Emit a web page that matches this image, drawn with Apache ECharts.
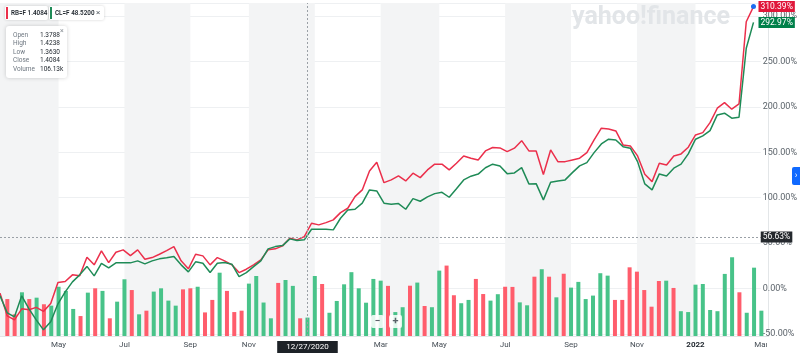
<!DOCTYPE html>
<html>
<head>
<meta charset="utf-8">
<title>RB=F vs CL=F</title>
<script src="https://cdn.jsdelivr.net/npm/echarts@6/dist/echarts.min.js"></script>
<style>
  html, body { margin: 0; padding: 0; background: #fff; }
  #chart { width: 800px; height: 355px; }
</style>
</head>
<body>
<div id="chart"></div>
<script>
// weekly candles; first slot is the week before the visible range, last slot is empty padding
const firstWeek = Date.UTC(2020, 2, 8)
const weekCount = 106

// % change, from 2020-03-08 to 2022-03-06
const rbPct = [-5.0, -30.0, -34.4, -22.3, -23.4, -20.7, -25.1, -16.3, 6.6, 7.7,
  15.1, 14.0, 34.5, 26.1, 41.5, 28.6, 40.0, 42.6, 36.3, 42.6,
  32.3, 34.1, 37.8, 41.8, 46.2, 30.5, 21.7, 37.8, 36.0, 26.1,
  34.1, 30.5, 26.1, 17.6, 21.3, 26.1, 31.6, 42.6, 43.7, 47.0,
  55.4, 53.6, 57.2, 71.9, 70.1, 72.6, 75.6, 83.6, 88.4, 101.2,
  108.6, 129.5, 139.1, 116.6, 119.6, 124.0, 118.5, 127.0, 122.1, 130.6,
  136.9, 136.9, 130.6, 138.0, 146.0, 143.5, 141.6, 151.5, 155.3, 154.8,
  150.7, 154.5, 162.8, 151.5, 151.5, 125.6, 152.6, 139.7, 139.7, 141.6,
  143.5, 149.6, 163.6, 176.5, 175.7, 173.5, 158.1, 157.0, 146.0, 125.9,
  117.7, 138.0, 136.1, 146.0, 148.2, 155.6, 169.1, 171.6, 182.6, 198.5,
  204.6, 197.4, 203.2, 293.7, 310.39]
const clPct = [-8.0, -26.7, -31.1, -8.0, -22.3, -34.4, -45.4, -36.6, -16.8, -3.6,
  7.4, 15.1, 24.4, 14.0, 27.7, 22.8, 28.3, 28.3, 28.3, 30.5,
  27.2, 30.5, 32.7, 33.8, 35.4, 26.1, 18.4, 29.4, 27.9, 17.6,
  27.9, 28.6, 26.8, 13.2, 17.6, 24.2, 30.5, 43.7, 46.2, 47.3,
  54.7, 52.8, 53.6, 65.3, 65.3, 65.3, 64.6, 77.4, 86.6, 87.3,
  94.0, 108.6, 107.5, 94.0, 92.8, 93.5, 87.3, 99.0, 96.1, 100.9,
  104.5, 106.0, 100.5, 109.9, 119.6, 123.7, 126.0, 133.0, 136.9, 135.0,
  126.5, 127.3, 133.1, 115.2, 115.5, 97.6, 117.1, 118.5, 119.6, 127.6,
  135.0, 138.6, 149.6, 159.2, 164.4, 163.6, 156.2, 154.5, 139.7, 115.2,
  108.6, 126.2, 124.0, 132.5, 136.9, 148.2, 164.4, 168.0, 173.8, 191.1,
  193.0, 187.5, 188.6, 264.5, 292.97]

// volume in thousands, from 2020-03-15; 1 = up week, 0 = down week
const volume = [213, 125, 252, 213, 221, 183, 175, 284, 260, 156,
  115, 250, 275, 260, 102, 198, 327, 265, 125, 146,
  256, 275, 204, 175, 269, 275, 284, 136, 208, 365,
  260, 138, 146, 302, 346, 193, 102, 306, 323, 289,
  102, 106, 346, 300, 134, 202, 298, 368, 275, 192,
  329, 319, 289, 138, 166, 290, 308, 173, 166, 377,
  406, 235, 189, 208, 329, 242, 204, 241, 284, 283,
  194, 177, 342, 385, 342, 223, 359, 279, 312, 213,
  233, 362, 348, 208, 208, 396, 371, 265, 169, 317,
  319, 277, 143, 138, 296, 300, 150, 143, 358, 454,
  252, 134, 394, 145.96]
const volUp = [0, 0, 1, 0, 1, 0, 1, 1, 1, 1,
  0, 1, 0, 1, 0, 1, 1, 0, 1, 0,
  1, 1, 1, 1, 0, 0, 1, 0, 0, 1,
  0, 0, 0, 1, 1, 1, 1, 0, 1, 1,
  0, 1, 1, 0, 1, 1, 1, 1, 1, 1,
  1, 1, 0, 1, 1, 0, 1, 0, 1, 1,
  0, 0, 1, 1, 0, 0, 1, 1, 0, 0,
  1, 1, 0, 1, 0, 1, 0, 1, 1, 1,
  1, 1, 1, 0, 0, 0, 0, 0, 0, 0,
  1, 0, 1, 1, 1, 1, 1, 1, 1, 1,
  0, 1, 1, 1]

const tickDates = ['2020-05-03', '2020-07-05', '2020-09-06', '2020-11-01', '2021-03-07',
  '2021-05-02', '2021-07-04', '2021-09-05', '2021-11-07', '2022-01-02', '2022-03-06']
const tickNames = ['May', 'Jul', 'Sep', 'Nov', 'Mar', 'May', 'Jul', 'Sep', 'Nov', '2022', 'Mar']
// shaded two-month stripes (Mar-Apr, Jul-Aug, Nov-Dec)
const bandStart = ['2020-03-08', '2020-07-05', '2020-11-01', '2021-03-07', '2021-07-04', '2021-11-07']
const bandEnd = ['2020-05-03', '2020-09-06', '2021-01-03', '2021-05-02', '2021-09-05', '2022-01-02']

const crossDate = '2020-12-27'
const crossText = '12/27/2020'
const crossPct = 56.63
const lastVolume = 145.96

const symbols = ['RB=F', 'CL=F']
const prices = ['1.4084', '48.5200']
const ohlcNames = ['Open', 'High', 'Low', 'Close', 'Volume']
const ohlcValues = ['1.3788', '1.4238', '1.3630', '1.4084', '106.13k']

const RED = '#eb2f4b'
const GREEN = '#1f8b57'
const BAR_RED = '#ff5d6c'
const BAR_GREEN = '#48c389'
const FONT = 'Roboto'

let weeks = []
for (let i = 0; i < weekCount; i++) {
  weeks.push(new Date(firstWeek + i * 7 * 86400000).toISOString().slice(0, 10))
}

let volData = ['-']
for (let i = 0; i < volume.length; i++) {
  volData.push({ value: volume[i], itemStyle: { color: volUp[i] ? BAR_GREEN : BAR_RED } })
}
volData.push('-')

let bands = []
for (let i = 0; i < bandStart.length; i++) {
  bands.push([{ xAxis: bandStart[i] }, { xAxis: bandEnd[i] }])
}

// static UI bits: legend chips, OHLC box, watermark, zoom buttons
let graphics = [
  { type: 'text', left: 572, top: 5, z: 3, silent: true,
    style: { text: 'yahoo!finance', font: 'bold 25px ' + FONT, fill: '#e2e5e8' } },
  { type: 'rect', shape: { x: 5, y: 6, width: 43, height: 14, r: 2 }, z: 100,
    style: { fill: '#fff', shadowBlur: 3, shadowColor: 'rgba(0,0,0,0.18)' } },
  { type: 'rect', shape: { x: 6, y: 7, width: 2, height: 12 }, z: 101, style: { fill: RED } },
  { type: 'text', x: 11, y: 13, z: 101,
    style: { text: symbols[0] + ' ' + prices[0], font: '600 6.3px ' + FONT, fill: '#232a31', verticalAlign: 'middle' } },
  { type: 'rect', shape: { x: 49, y: 6, width: 55, height: 14, r: 2 }, z: 100,
    style: { fill: '#fff', shadowBlur: 3, shadowColor: 'rgba(0,0,0,0.18)' } },
  { type: 'rect', shape: { x: 50, y: 7, width: 2, height: 12 }, z: 101, style: { fill: GREEN } },
  { type: 'text', x: 55, y: 13, z: 101,
    style: { text: symbols[1] + ' ' + prices[1], font: '600 6.3px ' + FONT, fill: '#232a31', verticalAlign: 'middle' } },
  { type: 'text', x: 96, y: 13, z: 101,
    style: { text: '×', font: '8px ' + FONT, fill: '#5b636a', verticalAlign: 'middle' } },
  { type: 'rect', shape: { x: 6, y: 26, width: 61, height: 52, r: 3 }, z: 100,
    style: { fill: '#fff', shadowBlur: 4, shadowColor: 'rgba(0,0,0,0.18)' } },
  { type: 'text', x: 60, y: 31, z: 101,
    style: { text: '×', font: '7px ' + FONT, fill: '#8a9096', verticalAlign: 'middle' } },
  { type: 'rect', shape: { x: 371, y: 315, width: 13, height: 13, r: 2 }, z: 100,
    style: { fill: 'rgba(255,255,255,0.85)' } },
  { type: 'rect', shape: { x: 389, y: 315, width: 13, height: 13, r: 2 }, z: 100,
    style: { fill: 'rgba(255,255,255,0.85)' } },
  { type: 'text', x: 377.5, y: 321.5, z: 101,
    style: { text: '−', font: 'bold 10px ' + FONT, fill: '#5b636a', align: 'center', verticalAlign: 'middle' } },
  { type: 'text', x: 395.5, y: 321.5, z: 101,
    style: { text: '+', font: 'bold 11px ' + FONT, fill: '#5b636a', align: 'center', verticalAlign: 'middle' } },
  { type: 'rect', shape: { x: 792, y: 167, width: 10, height: 18, r: 2 }, z: 100, style: { fill: '#0f69ff' } },
  { type: 'text', x: 796, y: 176, z: 101,
    style: { text: '›', font: '9px ' + FONT, fill: '#fff', align: 'center', verticalAlign: 'middle' } },
  { type: 'rect', shape: { x: 767, y: 337, width: 33, height: 18 }, z: 50, style: { fill: '#fff' } }
]
for (let i = 0; i < ohlcNames.length; i++) {
  graphics.push({ type: 'text', x: 13, y: 35 + i * 8.5, z: 101,
    style: { text: ohlcNames[i], font: '6.5px ' + FONT, fill: '#6e7780', verticalAlign: 'middle' } })
  graphics.push({ type: 'text', x: 40, y: 35 + i * 8.5, z: 101,
    style: { text: ohlcValues[i], font: '6.5px ' + FONT, fill: '#232a31', verticalAlign: 'middle' } })
}

let chart = echarts.init(document.getElementById('chart'))
chart.setOption({
  animation: false,
  textStyle: { fontFamily: FONT },
  graphic: graphics,
  grid: [
    { left: -3.05, right: 31.3, top: 3, bottom: 21 },
    { left: -3.05, right: 31.3, top: 3, bottom: 19 }
  ],
  xAxis: [
    { type: 'category', gridIndex: 0, data: weeks, boundaryGap: false, show: false },
    {
      type: 'category', gridIndex: 1, data: weeks, boundaryGap: false,
      axisLine: { lineStyle: { color: '#e3e6e8' } },
      axisTick: { show: false },
      axisLabel: {
        interval: (idx, val) => tickDates.indexOf(val) >= 0,
        formatter: val => {
          let name = tickNames[tickDates.indexOf(val)]
          return /^\d+$/.test(name) ? '{y|' + name + '}' : name
        },
        color: '#464e56', fontSize: 8, margin: 5,
        rich: { y: { fontSize: 8, fontWeight: 'bold', color: '#232a31' } }
      },
      splitLine: { show: false }
    }
  ],
  yAxis: [
    {
      type: 'value', gridIndex: 0, position: 'right',
      min: -50, max: 314.3, interval: 50,
      axisLine: { show: false },
      axisTick: { show: false },
      axisLabel: {
        showMaxLabel: false, margin: 2, fontSize: 9, color: '#5b636a',
        formatter: v => v.toFixed(2) + '%'
      },
      splitLine: { lineStyle: { color: '#eef0f2' } }
    },
    {
      type: 'value', gridIndex: 1, position: 'right',
      min: 0, max: 1920,
      axisLine: { show: true, lineStyle: { color: '#e3e6e8' } },
      axisTick: { show: false },
      axisLabel: { show: false },
      splitLine: { show: false }
    }
  ],
  series: [
    {
      // empty carrier for the month stripes (a line series keeps the edges on the exact weeks)
      name: 'stripes',
      type: 'line',
      xAxisIndex: 1,
      yAxisIndex: 1,
      data: [],
      silent: true,
      markArea: {
        silent: true,
        itemStyle: { color: '#f3f4f5' },
        data: bands
      }
    },
    {
      name: 'Volume',
      type: 'bar',
      xAxisIndex: 1,
      yAxisIndex: 1,
      barWidth: 4,
      data: volData,
      markLine: {
        silent: true,
        symbol: 'none',
        data: [
          {
            xAxis: crossDate,
            lineStyle: { color: '#9aa0a6', type: [2, 2], width: 1 },
            label: {
              position: 'start', formatter: crossText, distance: 5,
              backgroundColor: '#1d2227', color: '#fff', fontSize: 8, padding: [2, 9]
            }
          },
          {
            yAxis: lastVolume,
            lineStyle: { opacity: 0 },
            label: {
              position: 'end', formatter: lastVolume.toFixed(2) + 'K', distance: 0,
              backgroundColor: '#d5d8dc', color: '#232a31', fontSize: 8.5, padding: [1, 2]
            }
          }
        ]
      }
    },
    {
      name: symbols[0],
      type: 'line',
      xAxisIndex: 0,
      yAxisIndex: 0,
      data: rbPct,
      symbol: 'none',
      lineStyle: { color: RED, width: 1.5 },
      itemStyle: { color: RED },
      endLabel: {
        show: true, distance: 5,
        formatter: p => p.value.toFixed(2) + '%',
        backgroundColor: '#e0173a', color: '#fff', fontSize: 8.5, padding: [1, 2]
      },
      markPoint: {
        symbol: 'circle', symbolSize: 5,
        itemStyle: { color: '#1a6cf0' },
        label: { show: false },
        data: [{ type: 'max' }]
      },
      markLine: {
        silent: true,
        symbol: 'none',
        lineStyle: { color: '#9aa0a6', type: [2, 2], width: 1 },
        label: {
          position: 'end', distance: 0, formatter: crossPct.toFixed(2) + '%',
          backgroundColor: '#25292e', color: '#fff', fontSize: 8.5, padding: [1, 2]
        },
        data: [{ yAxis: crossPct }]
      }
    },
    {
      name: symbols[1],
      type: 'line',
      xAxisIndex: 0,
      yAxisIndex: 0,
      data: clPct,
      symbol: 'none',
      lineStyle: { color: GREEN, width: 1.5 },
      itemStyle: { color: GREEN },
      endLabel: {
        show: true, distance: 5,
        formatter: p => p.value.toFixed(2) + '%',
        backgroundColor: '#00804a', color: '#fff', fontSize: 8.5, padding: [1, 2]
      }
    }
  ]
})
</script>
</body>
</html>
